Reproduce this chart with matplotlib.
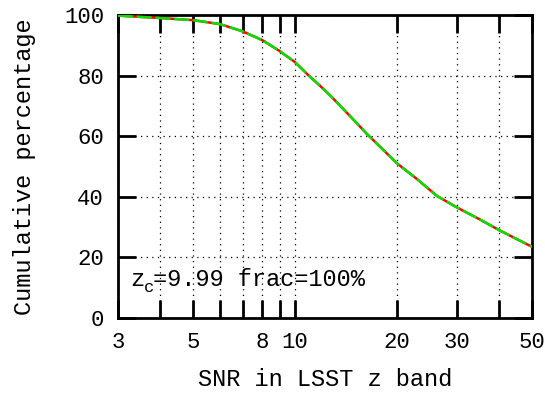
import matplotlib
matplotlib.use('Agg')
import matplotlib.pyplot as plt
import matplotlib.transforms as mtransforms
from matplotlib.ticker import FixedLocator, FixedFormatter, NullLocator

snr = [3, 4, 5, 6, 7, 8, 9, 10, 10.92, 11.8, 12.65, 15, 16.2, 20, 22.8, 26.2,
       30, 35, 40, 45, 50]
pct = [99.8, 99.0, 98.3, 97.0, 94.6, 91.7, 88.1, 84.4, 80.2, 76.8, 73.6, 65.0,
       61.0, 51.0, 46.0, 40.3, 36.5, 32.6, 29.0, 26.1, 23.5]

xticks = [3, 4, 5, 6, 7, 8, 9, 10, 20, 30, 40, 50]
xlabels = ['3', '', '5', '', '', '8', '', '10', '20', '30', '', '50']
yticks = [0, 20, 40, 60, 80, 100]

plt.rcParams['font.family'] = ['Liberation Mono', 'DejaVu Sans Mono']
fs_tick = 16
fs = 17

fig = plt.figure(figsize=(5.45, 3.93), dpi=100)
ax = fig.add_axes([118/545, 1 - 318/393, 414/545, 303/393])

ax.plot(snr, pct, color='red', lw=1.8, zorder=3)
ax.plot(snr, pct, color='#00e000', lw=1.8, dashes=(6, 1.5), zorder=4)

ax.set_xscale('log')
ax.set_xlim(3, 50)
ax.set_ylim(0, 100)
ax.xaxis.set_major_locator(FixedLocator(xticks))
ax.xaxis.set_major_formatter(FixedFormatter(xlabels))
ax.xaxis.set_minor_locator(NullLocator())
ax.set_yticks(yticks)

ax.tick_params(direction='in', length=13, width=2, top=True, right=True,
               labelsize=fs_tick, colors='black')
ax.tick_params(axis='x', pad=10)
ax.tick_params(axis='y', pad=10)
for s in ax.spines.values():
    s.set_linewidth(2)

ax.grid(True, which='major', color='black', lw=0.9, linestyle=(0, (1, 3.5)))

ax.set_xlabel('SNR in LSST z band', fontsize=fs, labelpad=11)
ax.set_ylabel('Cumulative percentage', fontsize=fs, labelpad=20)

# label with subscript c
tr = ax.transData
bx, by = 3.26, 10.6
ax.text(bx, by, 'z', fontsize=fs, ha='left', va='baseline', transform=tr)
sub = mtransforms.offset_copy(tr, fig=fig, x=10, y=-4.5, units='points')
ax.text(bx, by, 'c', fontsize=fs*0.72, ha='left', va='baseline', transform=sub)
rest = mtransforms.offset_copy(tr, fig=fig, x=16.5, y=0, units='points')
ax.text(bx, by, '=9.99 frac=100%', fontsize=fs, ha='left', va='baseline', transform=rest)

fig.savefig('out.png', dpi=100)
